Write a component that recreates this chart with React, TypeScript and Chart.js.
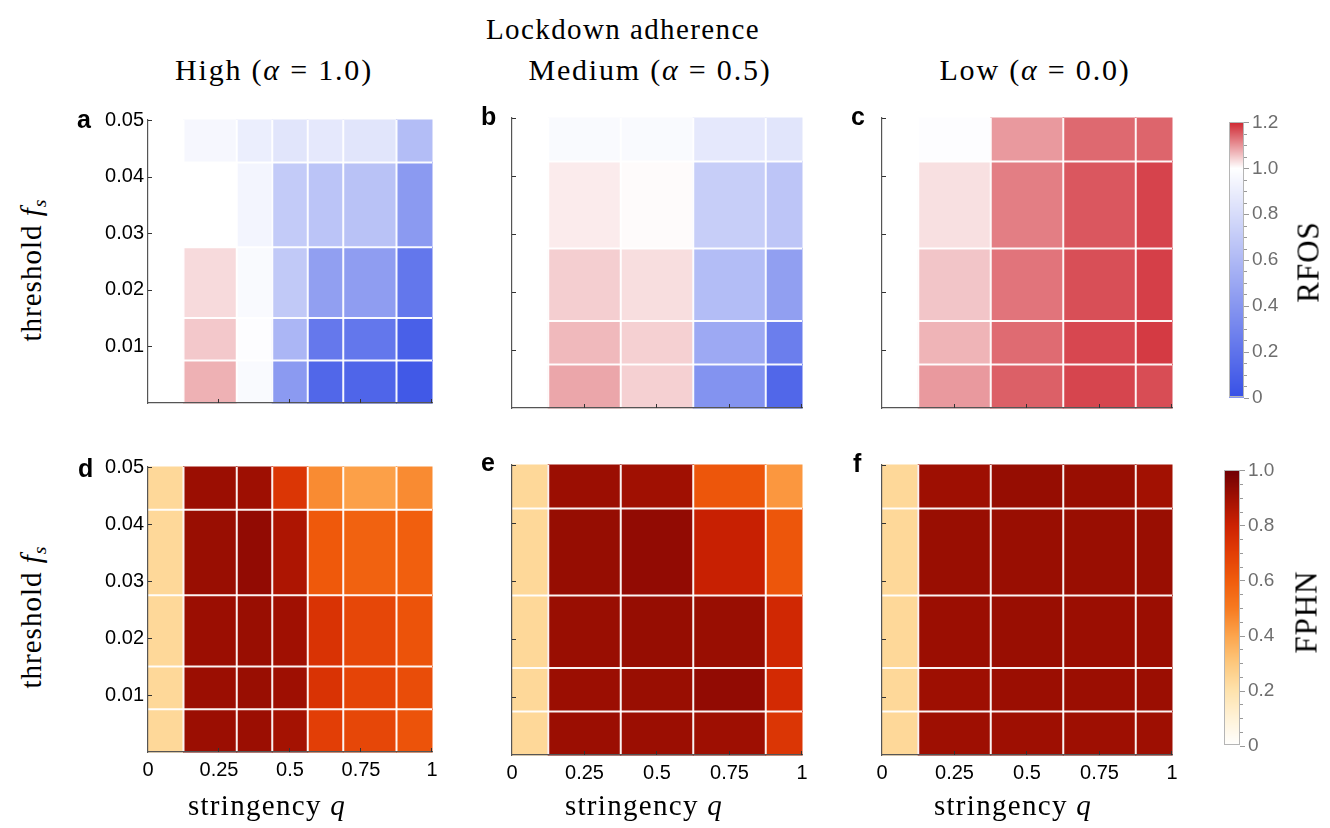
import React, { useEffect, useRef } from 'react';
import { Chart, registerables } from 'chart.js';

Chart.register(...registerables);

// ---------- data ----------
const qHigh = [0, 0.25, 0.375, 0.5, 0.625, 0.75, 1];
const qOther = [0, 0.25, 0.5, 0.75, 1];
const thresholds = [0.005, 0.01, 0.02, 0.035, 0.05];
const qTicks = [0, 0.25, 0.5, 0.75, 1];
const fsTicks = [0.01, 0.02, 0.03, 0.04, 0.05];
const rfosTicks = [0, 0.2, 0.4, 0.6, 0.8, 1.0, 1.2];
const fphnTicks = [0, 0.2, 0.4, 0.6, 0.8, 1.0];

// rows follow thresholds (0.005 -> 0.05), columns follow q values
const rfosHigh = [
  [1.0, 1.073, 0.97, 0.42, 0.13, 0.12, 0.05],
  [1.0, 1.051, 0.99, 0.58, 0.23, 0.22, 0.09],
  [1.0, 1.034, 0.97, 0.69, 0.45, 0.44, 0.22],
  [1.0, 1.0, 0.94, 0.7, 0.66, 0.65, 0.42],
  [1.0, 0.955, 0.9, 0.85, 0.87, 0.85, 0.62],
];
const rfosMedium = [
  [1.0, 1.083, 1.044, 0.38, 0.13],
  [1.0, 1.065, 1.044, 0.51, 0.26],
  [1.0, 1.046, 1.031, 0.62, 0.45],
  [1.0, 1.019, 1.004, 0.72, 0.67],
  [1.0, 0.97, 0.97, 0.87, 0.85],
];
const rfosLow = [
  [1.0, 1.095, 1.148, 1.173, 1.166],
  [1.0, 1.07, 1.138, 1.171, 1.183],
  [1.0, 1.054, 1.129, 1.164, 1.179],
  [1.0, 1.029, 1.12, 1.156, 1.175],
  [1.0, 0.99, 1.095, 1.14, 1.143],
];
const fphnHigh = [
  [0.24, 0.91, 0.91, 0.89, 0.7, 0.67, 0.63],
  [0.24, 0.91, 0.915, 0.905, 0.74, 0.68, 0.65],
  [0.24, 0.91, 0.915, 0.9, 0.74, 0.67, 0.63],
  [0.24, 0.915, 0.93, 0.87, 0.61, 0.58, 0.59],
  [0.24, 0.91, 0.905, 0.73, 0.46, 0.41, 0.46],
];
const fphnMedium = [
  [0.24, 0.91, 0.91, 0.905, 0.73],
  [0.24, 0.91, 0.915, 0.93, 0.77],
  [0.24, 0.915, 0.92, 0.915, 0.78],
  [0.24, 0.92, 0.93, 0.81, 0.62],
  [0.24, 0.91, 0.9, 0.62, 0.43],
];
const fphnLow = [
  [0.24, 0.905, 0.905, 0.905, 0.905],
  [0.24, 0.905, 0.91, 0.91, 0.91],
  [0.24, 0.91, 0.915, 0.91, 0.91],
  [0.24, 0.915, 0.915, 0.915, 0.915],
  [0.24, 0.905, 0.92, 0.915, 0.895],
];

// ---------- colour maps ----------
type Stop = [number, number[]];
const rfosStops: Stop[] = [
  [0, [55, 80, 230]],
  [1, [255, 255, 255]],
  [1.2, [208, 40, 50]],
];
const fphnStops: Stop[] = [
  [0, [255, 255, 255]],
  [0.1, [255, 242, 215]],
  [0.2, [254, 226, 172]],
  [0.3, [253, 200, 125]],
  [0.4, [252, 164, 76]],
  [0.5, [247, 122, 32]],
  [0.6, [240, 92, 12]],
  [0.7, [226, 62, 6]],
  [0.8, [204, 34, 2]],
  [0.9, [160, 16, 2]],
  [1.0, [112, 0, 4]],
];

function colorFor(v: number, stops: Stop[]) {
  if (v <= stops[0][0]) return `rgb(${stops[0][1].join(',')})`;
  for (let i = 1; i < stops.length; i++) {
    const [v1, c1] = stops[i];
    const [v0, c0] = stops[i - 1];
    if (v <= v1) {
      const t = (v - v0) / (v1 - v0);
      const c = c0.map((a, k) => Math.round(a + (c1[k] - a) * t));
      return `rgb(${c.join(',')})`;
    }
  }
  return `rgb(${stops[stops.length - 1][1].join(',')})`;
}

const SANS = "'Liberation Sans', Arial, sans-serif";
const SERIF = "'Liberation Serif', 'Times New Roman', serif";

type Area = { left: number; top: number; w: number; h: number };

function HeatPanel({ area, qs, values, stops, showX, showY }: {
  area: Area; qs: number[]; values: number[][]; stops: Stop[]; showX: boolean; showY: boolean;
}) {
  const ref = useRef<HTMLCanvasElement | null>(null);
  const padL = 70, padT = 16, padR = 20, padB = 40;
  const W = padL + area.w + padR;
  const H = padT + area.h + padB;

  useEffect(() => {
    const canvas = ref.current!;
    const edges = (arr: number[], lo: number, hi: number) =>
      arr.map((a, i) => [i === 0 ? lo : (arr[i - 1] + a) / 2, i === arr.length - 1 ? hi : (a + arr[i + 1]) / 2]);
    const xe = edges(qs, 0, 1);
    const ye = edges(thresholds, 0, 0.05);
    const cells: { x: number; y: number; v: number }[] = [];
    values.forEach((row, j) => row.forEach((v, i) => cells.push({ x: qs[i], y: thresholds[j], v })));

    const cellPlugin = {
      id: 'cells',
      beforeDraw(chart: any) {
        const { ctx, chartArea: a } = chart;
        const xs = chart.scales.x, ys = chart.scales.y;
        ctx.save();
        const data = chart.data.datasets[0].data as { x: number; y: number; v: number }[];
        data.forEach((d) => {
          const i = qs.indexOf(d.x);
          const j = thresholds.indexOf(d.y);
          const x0 = xs.getPixelForValue(xe[i][0]);
          const x1 = xs.getPixelForValue(xe[i][1]);
          const y0 = ys.getPixelForValue(ye[j][1]);
          const y1 = ys.getPixelForValue(ye[j][0]);
          ctx.fillStyle = colorFor(d.v, stops);
          ctx.fillRect(x0 - 0.5, y0 - 0.5, x1 - x0 + 1, y1 - y0 + 1);
        });
        ctx.strokeStyle = 'rgba(255,255,255,0.95)';
        ctx.lineWidth = 2;
        for (let i = 0; i < xe.length - 1; i++) {
          const px = xs.getPixelForValue(xe[i][1]);
          ctx.beginPath();
          ctx.moveTo(px, a.top);
          ctx.lineTo(px, a.bottom);
          ctx.stroke();
        }
        for (let j = 0; j < ye.length - 1; j++) {
          const py = ys.getPixelForValue(ye[j][1]);
          ctx.beginPath();
          ctx.moveTo(a.left, py);
          ctx.lineTo(a.right, py);
          ctx.stroke();
        }
        ctx.restore();
      },
      afterDraw(chart: any) {
        const { ctx, chartArea: a } = chart;
        const xs = chart.scales.x, ys = chart.scales.y;
        ctx.save();
        ctx.strokeStyle = '#333';
        ctx.lineWidth = 1;
        qTicks.forEach((q) => {
          if (q === 0) return;
          const px = Math.round(xs.getPixelForValue(q)) - 0.5;
          ctx.beginPath();
          ctx.moveTo(px, a.bottom);
          ctx.lineTo(px, a.bottom - 4);
          ctx.stroke();
        });
        fsTicks.forEach((f) => {
          const py = Math.round(ys.getPixelForValue(f)) + 0.5;
          ctx.beginPath();
          ctx.moveTo(a.left, py);
          ctx.lineTo(a.left + 4, py);
          ctx.stroke();
        });
        ctx.restore();
      },
    };

    const chart = new Chart(canvas, {
      type: 'scatter',
      data: { datasets: [{ data: cells as any, pointRadius: 0, pointHoverRadius: 0, showLine: false }] },
      options: {
        responsive: false,
        animation: false,
        devicePixelRatio: 1,
        events: [],
        layout: { padding: { left: 0, top: padT, right: padR, bottom: 0 } },
        plugins: { legend: { display: false }, tooltip: { enabled: false } },
        scales: {
          x: {
            type: 'linear',
            min: 0,
            max: 1,
            afterFit: (s: any) => { s.height = padB; },
            afterBuildTicks: (s: any) => { s.ticks = qTicks.map((v) => ({ value: v })); },
            grid: { display: false, drawTicks: false },
            border: { display: true, color: '#555', width: 1.2, z: 1 },
            ticks: {
              display: showX,
              padding: 6,
              color: '#000',
              autoSkip: false,
              maxRotation: 0,
              font: { family: SANS, size: 20 },
              callback: (v: any) => String(Math.round(Number(v) * 1000) / 1000),
            },
          },
          y: {
            type: 'linear',
            min: 0,
            max: 0.05,
            afterFit: (s: any) => { s.width = padL; },
            afterBuildTicks: (s: any) => { s.ticks = fsTicks.map((v) => ({ value: v })); },
            grid: { display: false, drawTicks: false },
            border: { display: true, color: '#555', width: 1.2, z: 1 },
            ticks: {
              display: showY,
              padding: 4,
              color: '#000',
              autoSkip: false,
              font: { family: SANS, size: 20 },
              callback: (v: any) => Number(v).toFixed(2),
            },
          },
        },
      } as any,
      plugins: [cellPlugin],
    });
    return () => chart.destroy();
  }, []);

  return (
    <canvas
      ref={ref}
      width={W}
      height={H}
      style={{ position: 'absolute', left: area.left - padL, top: area.top - padT, width: W, height: H }}
    />
  );
}

function ColorBar({ area, stops, ticks, max }: { area: Area; stops: Stop[]; ticks: number[]; max: number }) {
  const ref = useRef<HTMLCanvasElement | null>(null);
  const padL = 10, padT = 14, padR = 60, padB = 14;
  const W = padL + area.w + padR;
  const H = padT + area.h + padB;

  useEffect(() => {
    const canvas = ref.current!;
    const barPlugin = {
      id: 'bar',
      beforeDraw(chart: any) {
        const { ctx, chartArea: a } = chart;
        const ys = chart.scales.y;
        ctx.save();
        for (let py = Math.floor(a.top); py < Math.ceil(a.bottom); py++) {
          const v = ys.getValueForPixel(py + 0.5);
          ctx.fillStyle = colorFor(Math.max(0, Math.min(max, v)), stops);
          const top = Math.max(py, a.top);
          const bot = Math.min(py + 1, a.bottom);
          ctx.fillRect(a.left, top, a.right - a.left, bot - top);
        }
        ctx.strokeStyle = '#b5b5b5';
        ctx.lineWidth = 1;
        ctx.strokeRect(Math.round(a.left) + 0.5, Math.round(a.top) + 0.5, Math.round(a.right - a.left) - 1, Math.round(a.bottom - a.top) - 1);
        ctx.strokeStyle = '#999';
        for (let k = 0; k <= Math.round(max / 0.05); k++) {
          const v = k * 0.05;
          const major = k % 4 === 0;
          const py = Math.round(ys.getPixelForValue(v)) + 0.5;
          ctx.beginPath();
          ctx.moveTo(a.right, py);
          ctx.lineTo(a.right + (major ? 5 : 3), py);
          ctx.stroke();
        }
        ctx.restore();
      },
    };
    const chart = new Chart(canvas, {
      type: 'scatter',
      data: { datasets: [{ data: [], pointRadius: 0 }] },
      options: {
        responsive: false,
        animation: false,
        devicePixelRatio: 1,
        events: [],
        layout: { padding: { left: padL, top: padT, right: 0, bottom: padB } },
        plugins: { legend: { display: false }, tooltip: { enabled: false } },
        scales: {
          x: { type: 'linear', display: false, min: 0, max: 1 },
          y: {
            type: 'linear',
            position: 'right',
            min: 0,
            max,
            afterFit: (s: any) => { s.width = padR; },
            afterBuildTicks: (s: any) => { s.ticks = ticks.map((v) => ({ value: v })); },
            grid: { display: false, drawTicks: false },
            border: { display: false },
            ticks: {
              padding: 8,
              color: '#6e6e6e',
              autoSkip: false,
              font: { family: SANS, size: 19 },
              callback: (v: any) => (Number(v) === 0 ? '0' : Number(v).toFixed(1)),
            },
          },
        },
      } as any,
      plugins: [barPlugin],
    });
    return () => chart.destroy();
  }, []);

  return (
    <canvas
      ref={ref}
      width={W}
      height={H}
      style={{ position: 'absolute', left: area.left - padL, top: area.top - padT, width: W, height: H }}
    />
  );
}

function Text({ cx, baseline, size, children, spacing = 0 }: any) {
  return (
    <div
      style={{
        position: 'absolute',
        left: cx,
        top: baseline - 0.8375 * size,
        transform: 'translateX(-50%)',
        fontFamily: SERIF,
        fontSize: size,
        lineHeight: 1,
        whiteSpace: 'nowrap',
        letterSpacing: spacing,
        color: '#000',
      }}
    >
      {children}
    </div>
  );
}

function VText({ cx, cy, size, children, spacing = 0 }: any) {
  return (
    <div
      style={{
        position: 'absolute',
        left: cx,
        top: cy,
        transform: 'translate(-50%, -50%) rotate(-90deg)',
        fontFamily: SERIF,
        fontSize: size,
        lineHeight: 1,
        whiteSpace: 'nowrap',
        letterSpacing: spacing,
        color: '#000',
      }}
    >
      {children}
    </div>
  );
}

function Letter({ x, top, children }: any) {
  return (
    <div
      style={{
        position: 'absolute',
        left: x,
        top,
        fontFamily: SANS,
        fontWeight: 'bold',
        fontSize: 25,
        lineHeight: 1,
        color: '#000',
      }}
    >
      {children}
    </div>
  );
}

const Thr = () => (
  <span>
    threshold <i>f</i>
    <sub style={{ fontSize: '0.68em', fontStyle: 'italic', verticalAlign: '-0.3em', lineHeight: 0 }}>s</sub>
  </span>
);

export default function App() {
  useEffect(() => {
    document.body.style.margin = '0';
  }, []);
  const top = [
    { area: { left: 148, top: 120, w: 284, h: 283 }, qs: qHigh, values: rfosHigh },
    { area: { left: 512, top: 118, w: 290, h: 290 }, qs: qOther, values: rfosMedium },
    { area: { left: 882, top: 118, w: 290, h: 290 }, qs: qOther, values: rfosLow },
  ];
  const bottom = [
    { area: { left: 148, top: 467, w: 284, h: 285 }, qs: qHigh, values: fphnHigh },
    { area: { left: 512, top: 465, w: 290, h: 290 }, qs: qOther, values: fphnMedium },
    { area: { left: 882, top: 465, w: 290, h: 290 }, qs: qOther, values: fphnLow },
  ];
  return (
    <div style={{ position: 'absolute', left: 0, top: 0, width: 1330, height: 828, background: '#fff', overflow: 'hidden' }}>
      {top.map((p, i) => (
        <HeatPanel key={'t' + i} area={p.area} qs={p.qs} values={p.values} stops={rfosStops} showX={false} showY={i === 0} />
      ))}
      {bottom.map((p, i) => (
        <HeatPanel key={'b' + i} area={p.area} qs={p.qs} values={p.values} stops={fphnStops} showX={true} showY={i === 0} />
      ))}
      <ColorBar area={{ left: 1229, top: 117, w: 15, h: 286 }} stops={rfosStops} ticks={rfosTicks} max={1.2} />
      <ColorBar area={{ left: 1224, top: 465, w: 16, h: 286 }} stops={fphnStops} ticks={fphnTicks} max={1.0} />

      <Text cx={623} baseline={39} size={29} spacing={1.4}>Lockdown adherence</Text>
      <Text cx={274} baseline={80} size={30} spacing={1.8}>High (<i>α</i> = 1.0)</Text>
      <Text cx={650} baseline={80} size={30} spacing={1.8}>Medium (<i>α</i> = 0.5)</Text>
      <Text cx={1035} baseline={80} size={30} spacing={1.8}>Low (<i>α</i> = 0.0)</Text>

      <Text cx={267} baseline={815} size={29} spacing={1.3}>stringency <i>q</i></Text>
      <Text cx={644} baseline={815} size={29} spacing={1.3}>stringency <i>q</i></Text>
      <Text cx={1013} baseline={815} size={29} spacing={1.3}>stringency <i>q</i></Text>

      <VText cx={31} cy={270} size={29} spacing={1}><Thr /></VText>
      <VText cx={31} cy={617} size={29} spacing={1}><Thr /></VText>

      <VText cx={1308} cy={262} size={31} spacing={1}>RFOS</VText>
      <VText cx={1306} cy={612} size={31} spacing={1}>FPHN</VText>

      <Letter x={77} top={107}>a</Letter>
      <Letter x={481} top={104}>b</Letter>
      <Letter x={851} top={104}>c</Letter>
      <Letter x={78} top={456}>d</Letter>
      <Letter x={481} top={449.5}>e</Letter>
      <Letter x={853} top={450.5}>f</Letter>
    </div>
  );
}
